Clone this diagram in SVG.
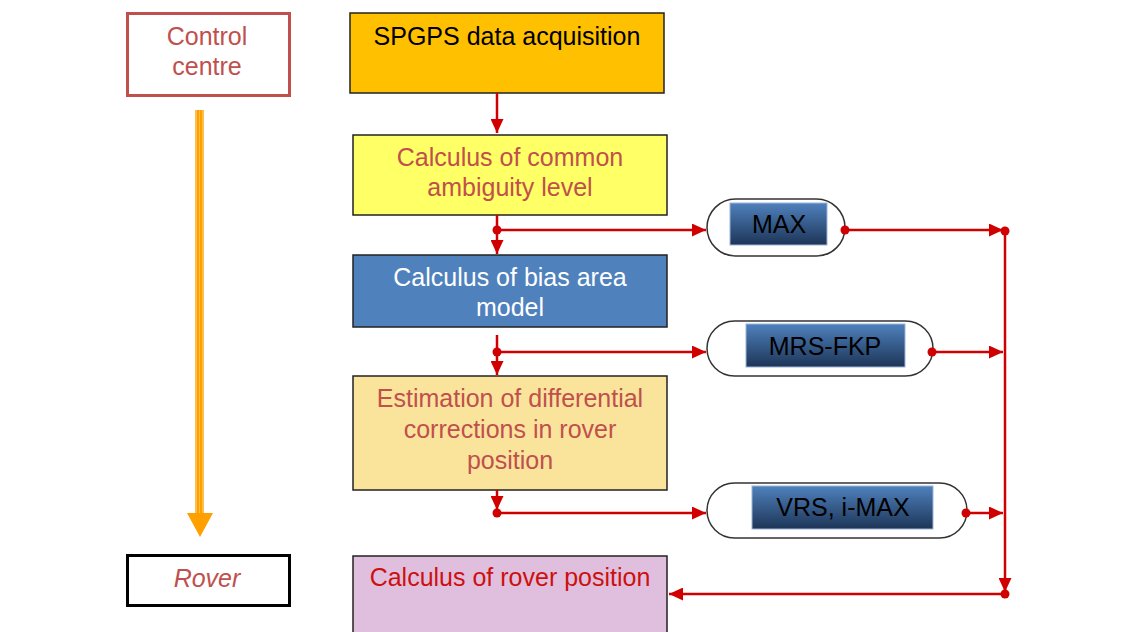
<svg xmlns="http://www.w3.org/2000/svg" width="1143" height="632" viewBox="0 0 1143 632">
<defs>
<linearGradient id="gb" x1="0" y1="0" x2="0" y2="1">
<stop offset="0" stop-color="#4f81bd"/>
<stop offset="1" stop-color="#1d3557"/>
</linearGradient>
<marker id="ah" viewBox="0 0 10 10" refX="10" refY="5" markerWidth="14" markerHeight="13" markerUnits="userSpaceOnUse" orient="auto" preserveAspectRatio="none">
<path d="M0,0 L10,5 L0,10 z" fill="#d00000"/>
</marker>
<marker id="dot" viewBox="0 0 10 10" refX="5" refY="5" markerWidth="9" markerHeight="9" markerUnits="userSpaceOnUse" overflow="visible">
<circle cx="5" cy="5" r="5" fill="#d00000"/>
</marker>
</defs>
<style>
text{font-family:"Liberation Sans",Arial,sans-serif;font-size:25px;text-anchor:middle}
.box{stroke:#222;stroke-width:1.5}
.red{fill:#c0504d}
.pill{fill:#fff;stroke:#333;stroke-width:1.5}
.inner{fill:url(#gb);stroke:#9db3d6;stroke-width:1}
.c{fill:none;stroke:#d00000;stroke-width:2.5}
</style>
<rect width="1143" height="632" fill="#fff"/>

<g id="control-centre">
<rect x="127.5" y="13.5" width="162" height="82" fill="#fff" stroke="#c0504d" stroke-width="3"/>
<text x="207" y="45" class="red">Control</text>
<text x="207" y="75" class="red">centre</text>
</g>

<g id="time-arrow">
<rect x="195" y="110" width="9" height="405" fill="#ffa000"/>
<line x1="196" y1="110" x2="196" y2="515" stroke="#ffd27a" stroke-width="1.2"/>
<line x1="199.5" y1="110" x2="199.5" y2="515" stroke="#ffc04a" stroke-width="1"/>
<line x1="203" y1="110" x2="203" y2="515" stroke="#ffd27a" stroke-width="1.2"/>
<polygon points="187,513 213,513 200,537" fill="#ffa000"/>
</g>

<g id="rover">
<rect x="127.5" y="555.5" width="162" height="50" fill="#fff" stroke="#000" stroke-width="3"/>
<text x="207" y="587" class="red" font-style="italic">Rover</text>
</g>

<g id="spgps">
<rect x="350" y="13" width="314" height="80" fill="#ffc000" class="box"/>
<text x="507" y="45" fill="#000">SPGPS data acquisition</text>
</g>

<g id="ambiguity">
<rect x="353" y="135" width="314" height="80" fill="#ffff66" class="box"/>
<text x="510" y="166" class="red">Calculus of common</text>
<text x="510" y="196" class="red">ambiguity level</text>
</g>

<g id="bias">
<rect x="353" y="255" width="314" height="72" fill="#4f81bd" class="box"/>
<text x="510" y="286" fill="#fff">Calculus of bias area</text>
<text x="510" y="316" fill="#fff">model</text>
</g>

<g id="estimation">
<rect x="353" y="376" width="314" height="114" fill="#fae49c" class="box"/>
<text x="510" y="407" class="red">Estimation of differential</text>
<text x="510" y="438" class="red">corrections in rover</text>
<text x="510" y="469" class="red">position</text>
</g>

<g id="rover-position">
<rect x="353" y="556" width="314" height="80" fill="#e0bedd" class="box"/>
<text x="510" y="586" fill="#cc1010">Calculus of rover position</text>
</g>

<g id="max">
<rect x="707" y="199" width="138" height="57" rx="28.5" class="pill"/>
<rect x="730" y="203" width="97" height="42" class="inner"/>
<text x="779" y="233" fill="#000">MAX</text>
</g>

<g id="mrs-fkp">
<rect x="707" y="321" width="226" height="55" rx="27.5" class="pill"/>
<rect x="746" y="324" width="159" height="43" class="inner"/>
<text x="825" y="355" fill="#000">MRS-FKP</text>
</g>

<g id="vrs-imax">
<rect x="707" y="483" width="260" height="55" rx="27.5" class="pill"/>
<rect x="752" y="486" width="181" height="43" class="inner"/>
<text x="843" y="516" fill="#000">VRS, i-MAX</text>
</g>

<g id="connectors">
<line x1="497" y1="93" x2="497" y2="133" class="c" marker-end="url(#ah)"/>
<line x1="497" y1="215" x2="497" y2="254" class="c" marker-end="url(#ah)"/>
<line x1="497" y1="230" x2="706" y2="230" class="c" marker-start="url(#dot)" marker-end="url(#ah)"/>
<line x1="497" y1="335" x2="497" y2="375" class="c" marker-end="url(#ah)"/>
<line x1="497" y1="352" x2="706" y2="352" class="c" marker-start="url(#dot)" marker-end="url(#ah)"/>
<line x1="497" y1="490" x2="497" y2="510" class="c" marker-end="url(#ah)"/>
<line x1="497" y1="513" x2="706" y2="513" class="c" marker-start="url(#dot)" marker-end="url(#ah)"/>
<line x1="845" y1="230" x2="1003" y2="230" class="c" marker-start="url(#dot)" marker-end="url(#ah)"/>
<line x1="932" y1="352" x2="1003" y2="352" class="c" marker-start="url(#dot)" marker-end="url(#ah)"/>
<line x1="966" y1="513" x2="1003" y2="513" class="c" marker-start="url(#dot)" marker-end="url(#ah)"/>
<line x1="1005" y1="231" x2="1005" y2="592" class="c" marker-start="url(#dot)" marker-end="url(#ah)"/>
<line x1="1005" y1="594" x2="669" y2="594" class="c" marker-start="url(#dot)" marker-end="url(#ah)"/>
</g>
</svg>
